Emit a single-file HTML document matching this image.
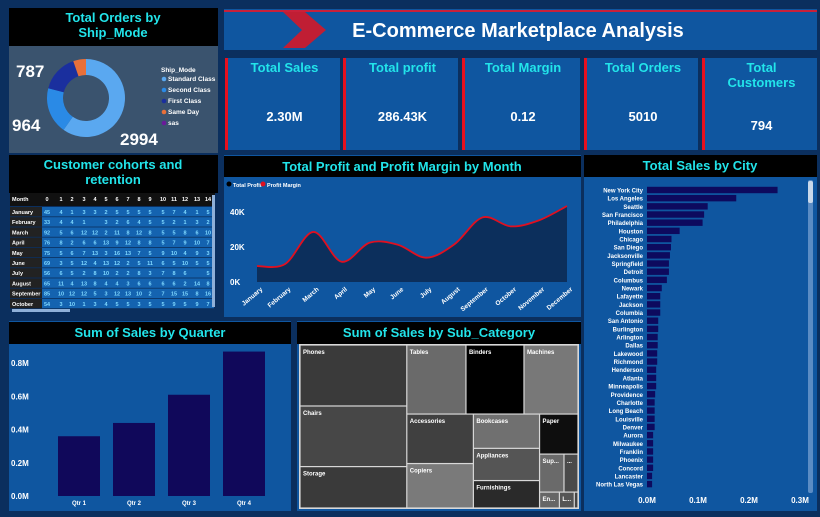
<!DOCTYPE html>
<html><head><meta charset="utf-8">
<style>
html,body{margin:0;padding:0;background:#0b2f5e;}
svg{display:block;font-family:"Liberation Sans",sans-serif;}
text{font-weight:bold;}
</style></head>
<body>
<svg id="s" width="820" height="517" viewBox="0 0 820 517">
 <rect x="0" y="0" width="820" height="517" fill="#0b2f5e"/>
 <!-- donut panel -->
 <g>
  <rect x="9" y="8" width="209" height="145" fill="#3a536e"/>
  <rect x="9" y="8" width="209" height="38" fill="#000"/>
  <text x="113" y="22" fill="#22e4ea" font-size="13" text-anchor="middle">Total Orders by</text>
  <text x="113" y="37" fill="#22e4ea" font-size="13" text-anchor="middle">Ship_Mode</text>
  <g id="donut"></g>
  <g id="donutLegend"></g>
 </g>
 <!-- header -->
 <g>
  <rect x="224" y="9" width="593" height="41" fill="#0f56a0"/>
  <rect x="224" y="10" width="593" height="2" fill="#c8203a"/>
  <polygon points="283,12 305,12 326,30 305,48 283,48 302,30" fill="#c01e34"/>
  <text x="518" y="37" fill="#fff" font-size="20" text-anchor="middle">E-Commerce Marketplace Analysis</text>
 </g>
 <g id="kpis"></g>
 <!-- cohort -->
 <g>
  <rect x="9" y="155" width="209" height="160" fill="#0b2f5e"/>
  <rect x="9" y="155" width="209" height="38" fill="#000"/>
  <text x="113" y="169" fill="#22e4ea" font-size="13" text-anchor="middle">Customer cohorts and</text>
  <text x="113" y="184" fill="#22e4ea" font-size="13" text-anchor="middle">retention</text>
  <g id="cohort"></g>
 </g>
 <!-- profit chart -->
 <g>
  <rect x="224" y="155" width="357" height="162" fill="#0f56a0"/>
  <rect x="224" y="156" width="357" height="21" fill="#000"/>
  <text x="402" y="171" fill="#22e4ea" font-size="13" text-anchor="middle">Total Profit and Profit Margin by Month</text>
  <circle cx="229" cy="184" r="2.5" fill="#000"/>
  <text x="233" y="187" fill="#fff" font-size="5.5">Total Profit</text>
  <circle cx="263" cy="184" r="2.5" fill="#e01020"/>
  <text x="267" y="187" fill="#fff" font-size="5.5">Profit Margin</text>
  <g id="profit"></g>
 </g>
 <!-- city -->
 <g>
  <rect x="584" y="155" width="233" height="356" fill="#0f56a0"/>
  <rect x="584" y="155" width="233" height="22" fill="#000"/>
  <text x="700" y="170" fill="#22e4ea" font-size="13" text-anchor="middle">Total Sales by City</text>
  <rect x="808" y="180" width="5" height="313" rx="2" fill="#5b8cc4"/>
  <rect x="808" y="181" width="5" height="22" rx="2" fill="#c9d8ea"/>
  <g id="city"></g>
 </g>
 <!-- quarter -->
 <g>
  <rect x="9" y="321" width="282" height="190" fill="#0f56a0"/>
  <rect x="9" y="322" width="282" height="22" fill="#000"/>
  <text x="150" y="337" fill="#22e4ea" font-size="13" text-anchor="middle">Sum of Sales by Quarter</text>
  <g id="quarter"></g>
 </g>
 <!-- treemap -->
 <g>
  <rect x="297" y="321" width="284" height="190" fill="#0f56a0"/>
  <rect x="297" y="322" width="284" height="22" fill="#000"/>
  <text x="439" y="337" fill="#22e4ea" font-size="13" text-anchor="middle">Sum of Sales by Sub_Category</text>
  <rect x="299" y="344" width="280" height="165" fill="#d8d8d8"/>
  <g id="tree"></g>
 </g>
</svg>
<script>
const NS="http://www.w3.org/2000/svg";
function mk(parent,tag,attrs,txt){const e=document.createElementNS(NS,tag);for(const k in attrs)e.setAttribute(k,attrs[k]);if(txt!==undefined)e.textContent=txt;parent.appendChild(e);return e;}

// ---- Donut data ----
const shipModes=["Standard Class","Second Class","First Class","Same Day","sas"];
const shipOrders=[2994,964,787,265,0];
const shipColors=["#5aa8f0","#2a8ae6","#1a2f9e","#e8703a","#6a1a9a"];
// ---- KPI data ----
const kpiTitles=[["Total Sales"],["Total profit"],["Total Margin"],["Total Orders"],["Total","Customers"]];
const kpiValues=["2.30M","286.43K","0.12","5010","794"];
// ---- Cohort data ----
const cohortMonths=["January","February","March","April","May","June","July","August","September","October"];
const cohortCols=["0","1","2","3","4","5","6","7","8","9","10","11","12","13","14"];
const cohortValues=[
[45,4,1,3,3,2,5,5,5,5,5,7,4,1,5],
[33,4,4,1,null,3,2,6,4,5,5,2,1,3,2],
[92,5,6,12,12,2,11,8,12,8,5,5,8,6,10],
[76,8,2,6,6,13,9,12,8,8,5,7,9,10,7],
[75,5,6,7,13,3,16,13,7,5,9,10,4,9,3],
[69,3,5,12,4,13,12,2,5,11,6,5,10,5,5],
[56,6,5,2,8,10,2,2,8,3,7,8,6,null,5],
[65,11,4,13,8,4,4,3,6,6,6,6,2,14,8],
[85,10,12,12,5,3,12,13,10,2,7,15,15,8,16],
[54,3,10,1,3,4,5,5,3,5,5,9,5,9,7]];
// ---- Profit data ----
const months=["January","February","March","April","May","June","July","August","September","October","November","December"];
const monthProfit=[9.1,10.3,28.6,11.6,22.5,21.3,13.9,21.5,36.9,31.8,35.2,43.4];
const profitTicks=[0,20,40];
// ---- City data ----
const cities=["New York City","Los Angeles","Seattle","San Francisco","Philadelphia","Houston","Chicago","San Diego","Jacksonville","Springfield","Detroit","Columbus","Newark","Lafayette","Jackson","Columbia","San Antonio","Burlington","Arlington","Dallas","Lakewood","Richmond","Henderson","Atlanta","Minneapolis","Providence","Charlotte","Long Beach","Louisville","Denver","Aurora","Milwaukee","Franklin","Phoenix","Concord","Lancaster","North Las Vegas"];
const citySales=[0.256,0.175,0.119,0.112,0.109,0.064,0.048,0.047,0.045,0.043,0.043,0.039,0.029,0.026,0.026,0.026,0.022,0.022,0.021,0.021,0.020,0.020,0.018,0.018,0.018,0.016,0.015,0.015,0.015,0.015,0.012,0.012,0.012,0.012,0.012,0.010,0.010];
const cityTicks=[0,0.1,0.2,0.3];
// ---- Quarter data ----
const quarters=["Qtr 1","Qtr 2","Qtr 3","Qtr 4"];
const quarterSales=[0.36,0.44,0.61,0.87];
const quarterTicks=[0,0.2,0.4,0.6,0.8];
// ---- Treemap data ----
const subCats=["Phones","Chairs","Storage","Tables","Binders","Machines","Accessories","Copiers","Bookcases","Appliances","Furnishings","Paper","Sup...","...","En...","L...",""];
const subSales=[330,328,224,207,203,189,167,150,115,108,92,78,47,27,16,12,3];
const subShades=["#3a3a3a","#474747","#3a3a3a","#6a6a6a","#000000","#787878","#404040","#7a7a7a","#707070","#555555","#2a2a2a","#0e0e0e","#6a6a6a","#4a4a4a","#666666","#555555","#444444"];

// Donut
(function(){
 const g=document.getElementById('donut');const cx=86,cy=98,R=39,r=23;
 const tot=shipOrders.reduce((a,b)=>a+b,0);let a0=-Math.PI/2;
 shipOrders.forEach((v,i)=>{if(!v)return;const a1=a0+v/tot*2*Math.PI;const big=(a1-a0)>Math.PI?1:0;
  const p=(rad,a)=>[cx+rad*Math.cos(a),cy+rad*Math.sin(a)];
  const [x0,y0]=p(R,a0),[x1,y1]=p(R,a1),[x2,y2]=p(r,a1),[x3,y3]=p(r,a0);
  const e=mk(g,'path',{d:`M${x0},${y0}A${R},${R} 0 ${big} 1 ${x1},${y1}L${x2},${y2}A${r},${r} 0 ${big} 0 ${x3},${y3}Z`,fill:shipColors[i]});
  
  
  a0=a1;});
 const lbl=[[120,145,0],[12,131,1],[16,77,2]];
 lbl.forEach(l=>{const t=mk(g,'text',{x:l[0],y:l[1],fill:'#fff','font-size':17,'font-weight':'normal'},String(shipOrders[l[2]]));});
 const lg=document.getElementById('donutLegend');
 mk(lg,'text',{x:161,y:72,fill:'#fff','font-size':6.5},'Ship_Mode');
 shipModes.forEach((m,i)=>{const y=81+i*11;mk(lg,'circle',{cx:164,cy:y-2,r:2.3,fill:shipColors[i]});
  const t=mk(lg,'text',{x:168,y:y,fill:'#fff','font-size':6.5},m);});
})();

// KPIs
(function(){
 const g=document.getElementById('kpis');const xs=[225,343,462,584,702],w=[115,115,118,114,115];
 xs.forEach((x,i)=>{mk(g,'rect',{x:x,y:58,width:w[i],height:92,fill:'#0f56a0'});
  mk(g,'rect',{x:x,y:58,width:3,height:92,fill:'#e8101e'});
  const cx=x+w[i]/2+2;
  kpiTitles[i].forEach((t,j)=>{const e=mk(g,'text',{x:cx,y:72+j*15,fill:'#22e4ea','font-size':13,'text-anchor':'middle'},t);});
  const vy=kpiTitles[i].length>1?130:121;
  const v=mk(g,'text',{x:cx,y:vy,fill:'#fff','font-size':13,'font-weight':'normal','text-anchor':'middle'},kpiValues[i]);
  });
})();

// Cohort
(function(){
 const g=document.getElementById('cohort');const colX=[47,61,72,84,95,106,117,128,139,150,163,174,185,197,208];
 mk(g,'rect',{x:10,y:193,width:205,height:13,fill:'#111'});
 mk(g,'text',{x:12,y:201,fill:'#fff','font-size':5.5},'Month');
 cohortCols.forEach((c,j)=>mk(g,'text',{x:colX[j],y:201,fill:'#fff','font-size':5.5,'text-anchor':'middle'},c));
 cohortMonths.forEach((m,i)=>{const y=207+i*10.2;
  mk(g,'rect',{x:10,y:y,width:32,height:9.4,fill:'#222'});
  mk(g,'rect',{x:42,y:y,width:172,height:9.4,fill:'#1463b0'});
  const t=mk(g,'text',{x:12,y:y+7,fill:'#fff','font-size':5.5},m);
  cohortValues[i].forEach((v,j)=>{if(v===null)return;mk(g,'text',{x:colX[j],y:y+7,fill:'#7fd8ff','font-size':5.5,'text-anchor':'middle'},String(v));});});
 mk(g,'rect',{x:212,y:195,width:3,height:112,fill:'#8fb0d8'});
 mk(g,'rect',{x:12,y:309,width:58,height:3,fill:'#8fb0d8'});
})();

// Profit area
(function(){
 const g=document.getElementById('profit');
 const x=i=>257+i*(310/11), y=v=>282-v*(70/40);
 profitTicks.forEach(t=>mk(g,'text',{x:230,y:y(t)+3,fill:'#fff','font-size':8},t+'K'));
 const pts=monthProfit.map((v,i)=>[x(i),y(v)]);
 let d=`M${pts[0][0]},${pts[0][1]}`;
 for(let i=0;i<pts.length-1;i++){const p0=pts[Math.max(0,i-1)],p1=pts[i],p2=pts[i+1],p3=pts[Math.min(pts.length-1,i+2)];
  d+=`C${p1[0]+(p2[0]-p0[0])/6},${p1[1]+(p2[1]-p0[1])/6} ${p2[0]-(p3[0]-p1[0])/6},${p2[1]-(p3[1]-p1[1])/6} ${p2[0]},${p2[1]}`;}
 const area=mk(g,'path',{d:d+`L${x(11)},${y(0)}L${x(0)},${y(0)}Z`,fill:'#0c2f5c'});
 
 const line=mk(g,'path',{d:d,fill:'none',stroke:'#e01020','stroke-width':1.8});
 
 months.forEach((m,i)=>{const t=mk(g,'text',{x:x(i)+6,y:290,fill:'#fff','font-size':6.5,'text-anchor':'end',transform:`rotate(-40 ${x(i)+6} 290)`},m);});
})();

// City bars
(function(){
 const g=document.getElementById('city');const x=v=>647+v*510,y=i=>190+i*8.17;
 cities.forEach((c,i)=>{const t=mk(g,'text',{x:643,y:y(i)+2.5,fill:'#fff','font-size':6,'text-anchor':'end'},c);
  
  const b=mk(g,'rect',{x:647,y:y(i)-3.2,width:x(citySales[i])-647,height:6.4,fill:'#0d0a5e'});
  });
 cityTicks.forEach(t=>mk(g,'text',{x:x(t),y:503,fill:'#fff','font-size':8,'text-anchor':'middle'},t.toFixed(1)+'M'));
})();

// Quarter bars
(function(){
 const g=document.getElementById('quarter');const y=v=>496-v*166,x=i=>58+i*55;
 quarterTicks.forEach(t=>mk(g,'text',{x:11,y:y(t)+3,fill:'#fff','font-size':8},t.toFixed(1)+'M'));
 quarters.forEach((q,i)=>{const b=mk(g,'rect',{x:x(i),y:y(quarterSales[i]),width:42,height:496-y(quarterSales[i]),fill:'#10085a'});
  
  mk(g,'text',{x:x(i)+21,y:505,fill:'#fff','font-size':6,'text-anchor':'middle'},q);});
})();

// Treemap (structure: nested groups of indices; sizes from subSales)
const treeStructure={dir:'h',kids:[{dir:'v',kids:[0,1,2]},{dir:'v',kids:[{dir:'h',kids:[3,4,5]},{dir:'h',kids:[{dir:'v',kids:[6,7]},{dir:'v',kids:[8,9,10]},{dir:'v',kids:[11,{dir:'h',kids:[12,13]},{dir:'h',kids:[14,15,16]}]}]}]}]};
(function(){
 const g=document.getElementById('tree');
 const sum=n=>typeof n==='number'?subSales[n]:n.kids.reduce((a,k)=>a+sum(k),0);
 function lay(n,x,y,w,h){
  if(typeof n==='number'){const r=mk(g,'rect',{x:x+0.6,y:y+0.6,width:Math.max(0,w-1.2),height:Math.max(0,h-1.2),fill:subShades[n]});
   
   if(subCats[n]&&w>8)mk(g,'text',{x:x+3,y:y+9,fill:'#fff','font-size':6},subCats[n]);return;}
  const tot=sum(n);let off=0;
  n.kids.forEach(k=>{const f=sum(k)/tot;
   if(n.dir==='h'){lay(k,x+off,y,w*f,h);off+=w*f;}else{lay(k,x,y+off,w,h*f);off+=h*f;}});
 }
 lay(treeStructure,300,345,278,163);
})();
</script>
</body></html>
